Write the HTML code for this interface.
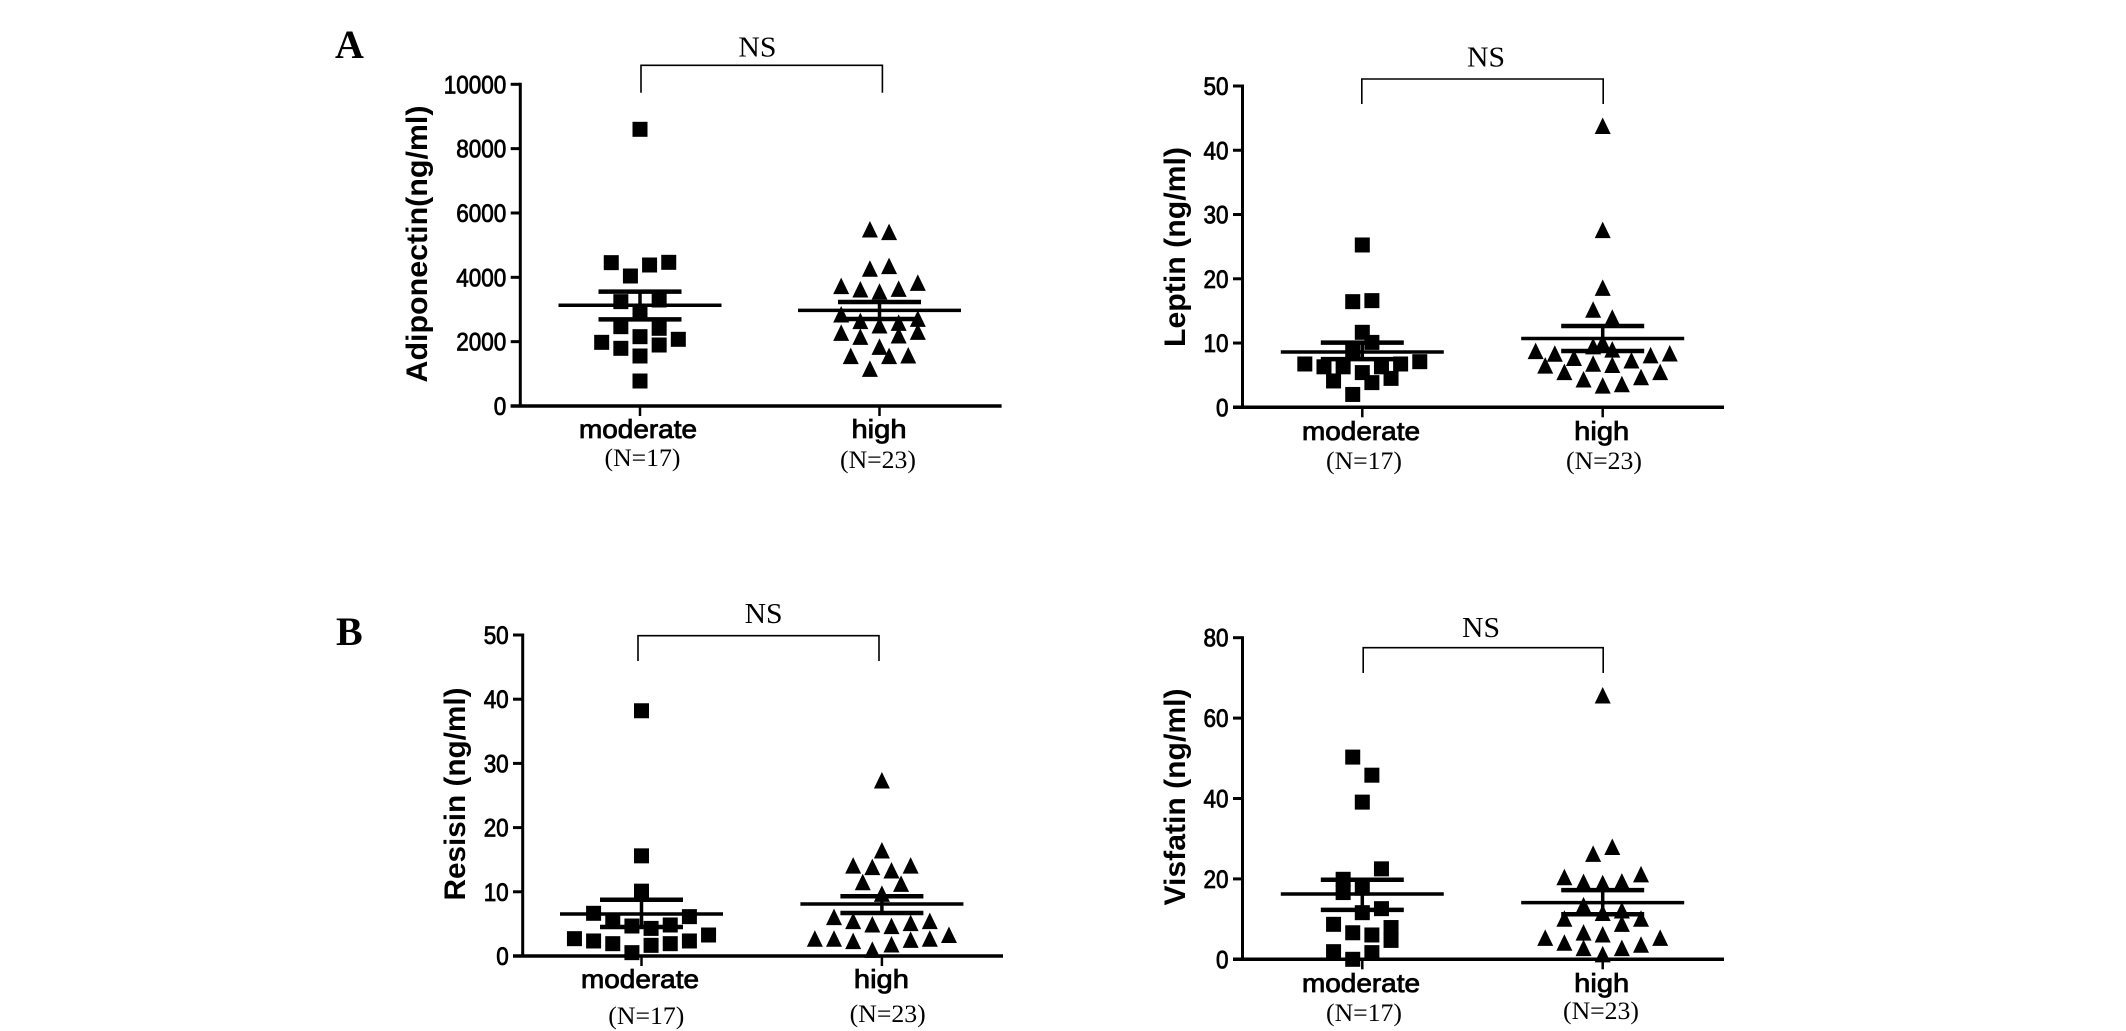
<!DOCTYPE html>
<html lang="en">
<head>
<meta charset="utf-8">
<title>Adipokine scatter plots</title>
<style>
html,body{margin:0;padding:0;background:#fff;}
svg{display:block;}
</style>
</head>
<body>
<svg id="figure" xmlns="http://www.w3.org/2000/svg" width="2126" height="1031" viewBox="0 0 2126 1031">
  <rect width="2126" height="1031" fill="#fff"/>
  <text x="335" y="58" font-family="'Liberation Serif',serif" font-weight="700" font-size="40" fill="#000">A</text>
  <text x="336" y="645" font-family="'Liberation Serif',serif" font-weight="700" font-size="40" fill="#000">B</text>
</svg>
<script>
// ---- chart data ----
const categories = ['moderate', 'high'];
const groupSizes = ['(N=17)', '(N=23)'];

const adiponectinTicks = [0, 2000, 4000, 6000, 8000, 10000];
const adiponectinModerate = [8601,4456,4383,4466,4041,3244,3295,2933,2466,2415,2155,1896,1979,2073,1793,1554,777];
const adiponectinModerateSlots = [0,-3,1,3,-1,-2,2,0,-2,2,0,2,-4,4,-2,0,0];
const adiponectinHigh = [5472,5389,4249,4332,3710,3606,3534,3627,3813,2829,2622,2487,2570,2694,2259,2135,2176,2290,1824,1534,1534,1554,1140];
const adiponectinHighSlots = [-1,1,-1,1,-4,-2,0,2,4,-4,-2,0,2,4,-4,-2,2,4,0,-3,1,3,-1];
const adiponectinMeans = [3130, 2974];
const adiponectinUpper = [3554, 3233];
const adiponectinLower = [2694, 2705];

const leptinTicks = [0, 10, 20, 30, 40, 50];
const leptinModerate = [25.26,16.44,16.6,11.67,10.1,8.9,6.74,7.1,6.3,6.3,6.3,6.74,4.1,5.4,3.84,4.5,2.0];
const leptinModerateSlots = [0,-1,1,0,1,-1,-6,6,-4,-2,2,4,-3,0,1,3,-1];
const leptinHigh = [43.7,27.5,18.5,15.1,13.85,9.96,9.4,8.9,8.66,8.25,7.6,8.0,8.3,7.2,6.4,6.7,6.5,5.4,5.4,4.25,4.6,3.5,3.3];
const leptinHighSlots = [0,0,0,-1,1,0,-1,1,-7,-5,-3,5,7,3,-6,-1,1,-4,6,-2,4,2,0];
const leptinMeans = [8.6, 10.7];
const leptinUpper = [10.06, 12.66];
const leptinLower = [7.5, 8.77];

const resisinTicks = [0, 10, 20, 30, 40, 50];
const resisinModerate = [38.2,15.6,10.1,6.65,5.45,6.13,4.67,4.3,4.83,2.7,2.34,1.92,1.66,1.92,2.34,3.27,0.52];
const resisinModerateSlots = [0,0,0,-5,-3,5,-1,1,3,-7,-5,-3,1,3,5,7,-1];
const resisinHigh = [27.26,16.36,14.0,13.76,13.24,14.0,11.4,11.16,9.6,5.97,5.35,4.83,4.57,5.04,5.35,2.6,2.6,2.23,0.88,1.71,2.44,2.6,3.2];
const resisinHighSlots = [0,0,-3,-1,1,3,-2,2,0,-5,-3,-1,1,3,5,-7,-5,-3,-1,1,3,5,7];
const resisinMeans = [6.54, 8.1];
const resisinUpper = [8.77, 9.3];
const resisinLower = [4.52, 6.7];

const visfatinTicks = [0, 20, 40, 60, 80];
const visfatinModerate = [50.3,45.8,39.1,22.5,19.9,16.6,17.7,12.6,11.6,8.7,6.6,6.05,7.9,4.7,1.9,1.66,0];
const visfatinModerateSlots = [-1,1,0,2,-2,-2,0,2,0,-3,-1,1,3,3,-3,1,-1];
const visfatinHigh = [65.5,27.8,26.1,20.3,21,19.07,18.8,19.2,13.3,12.0,11.4,9.95,9.95,8.7,6.5,6.05,5.2,5.2,4,3.5,2.65,2.65,1.1];
const visfatinHighSlots = [0,1,-1,-4,4,-2,0,2,-2,2,0,-4,4,2,-2,0,-6,6,-4,4,-2,2,0];
const visfatinMeans = [16.25, 14.1];
const visfatinUpper = [19.8, 17.2];
const visfatinLower = [12.3, 11.2];

// ---- drawing ----
const NS = 'http://www.w3.org/2000/svg';
const svg = document.getElementById('figure');
const SLOT = 9.58;

function node(parent, tag) {
  const el = document.createElementNS(NS, tag);
  parent.appendChild(el);
  return el;
}
function setAll(el, attrs) {
  for (const k in attrs) el.setAttribute(k, attrs[k]);
  return el;
}
function seg(parent, x1, y1, x2, y2, w) {
  const l = node(parent, 'line');
  setAll(l, {x1: x1, y1: y1, x2: x2, y2: y2, stroke: '#000', 'stroke-width': w});
  return l;
}
function label(parent, str, x, y, size, family, weight, width) {
  const t = node(parent, 'text');
  setAll(t, {x: x, y: y, 'font-size': size, 'font-family': family, 'font-weight': weight, fill: '#000'});
  if (width) {
    t.setAttribute('textLength', width);
    t.setAttribute('lengthAdjust', 'spacingAndGlyphs');
  }
  t.textContent = str;
  return t;
}
const SANS = "'Liberation Sans',Arial,sans-serif";
const SERIF = "'Liberation Serif',serif";

function drawPanel(p) {
  const g = node(svg, 'g');
  
  

  const yMax = p.ticks[p.ticks.length - 1];
  const yScale = v => p.y0 - (v / yMax) * (p.y0 - p.yTop);
  const xScale = (cat, slot) => p.cats[cat] + slot * SLOT;

  // y axis
  const yAxis = seg(g, p.axisX, p.yTop - 1.5, p.axisX, p.y0 + 1.5, 3);
  
  
  p.ticks.forEach(v => {
    const tk = seg(g, p.xStart, yScale(v), p.axisX, yScale(v), 3);
    
    
    const str = String(v);
    const tw = str.length * 12.5;
    const tl = label(g, str, p.axisX - 14 - tw, yScale(v) + 9, 25, SANS, 400, tw);
    tl.setAttribute('stroke', '#000');
    tl.setAttribute('stroke-width', '0.8');
    
    
  });

  // x axis
  const xAxis = seg(g, p.xStart, p.y0, p.xEnd, p.y0, 3.5);
  
  
  categories.forEach((c, i) => {
    const tk = seg(g, p.cats[i], p.y0, p.cats[i], p.y0 + 10, 2.5);
    
    
    const cw = i === 0 ? 118 : 55;
    const cl = label(g, c, p.catLabelX[i] - cw / 2, p.catLabelY, 26, SANS, 400, cw);
    cl.setAttribute('stroke', '#000');
    cl.setAttribute('stroke-width', '0.8');
    
    
    const nl = label(g, groupSizes[i], p.nLabelX[i] - 38, p.nLabelY[i], 25, SERIF, 400, 76);
    
    
  });

  // y title
  const title = label(g, p.title, 0, 0, 30, SANS, 700, p.titleLen);
  title.setAttribute('transform', 'translate(' + p.titleX + ',' + p.titleMid + ') rotate(-90) translate(' + (-p.titleLen / 2) + ',0)');
  
  

  // points
  p.moderate.forEach((v, i) => {
    const cx = xScale(0, p.moderateSlots[i]);
    const cy = yScale(v);
    const r = node(g, 'rect');
    setAll(r, {x: cx - 7.5, y: cy - 7.5, width: 15, height: 15, fill: '#000'});
    
    
  });
  p.high.forEach((v, i) => {
    const cx = xScale(1, p.highSlots[i]);
    const cy = yScale(v);
    const t = node(g, 'polygon');
    setAll(t, {points: cx + ',' + (cy - 9) + ' ' + (cx + 8) + ',' + (cy + 7.5) + ' ' + (cx - 8) + ',' + (cy + 7.5), fill: '#000'});
    
    
  });

  // mean and error bars
  categories.forEach((c, i) => {
    const cx = xScale(i, 0);
    const m = seg(g, cx - 81.5, yScale(p.means[i]), cx + 81.5, yScale(p.means[i]), 3.5);
    
    
    const s = seg(g, cx, yScale(p.upper[i]), cx, yScale(p.lower[i]), 3.5);
    
    
    const u = seg(g, cx - 41.5, yScale(p.upper[i]), cx + 41.5, yScale(p.upper[i]), 4.5);
    
    
    const d = seg(g, cx - 41.5, yScale(p.lower[i]), cx + 41.5, yScale(p.lower[i]), 4.5);
    
    
  });

  // significance bracket
  const b = node(g, 'polyline');
  setAll(b, {points: p.bracket[0] + ',' + p.bracket[3] + ' ' + p.bracket[0] + ',' + p.bracket[2] + ' ' + p.bracket[1] + ',' + p.bracket[2] + ' ' + p.bracket[1] + ',' + p.bracket[3], fill: 'none', stroke: '#000', 'stroke-width': 1.6});
  
  
  const ns = label(g, 'NS', p.nsX - 19, p.nsY, 29, SERIF, 400, 38);
  
  
}

drawPanel({
  key: 'adiponectin', title: 'Adiponectin(ng/ml)', titleX: 427, titleMid: 244, titleLen: 277,
  ticks: adiponectinTicks, moderate: adiponectinModerate, moderateSlots: adiponectinModerateSlots,
  high: adiponectinHigh, highSlots: adiponectinHighSlots,
  means: adiponectinMeans, upper: adiponectinUpper, lower: adiponectinLower,
  axisX: 520.3, xStart: 510.7, xEnd: 1001.6, y0: 406, yTop: 84.3, cats: [640, 879.5],
  catLabelX: [638, 879], catLabelY: 438, nLabelX: [642.5, 878], nLabelY: [466, 468],
  bracket: [641, 882.4, 65.3, 92.7], nsX: 757.4, nsY: 56.7
});
drawPanel({
  key: 'leptin', title: 'Leptin (ng/ml)', titleX: 1185, titleMid: 247, titleLen: 200,
  ticks: leptinTicks, moderate: leptinModerate, moderateSlots: leptinModerateSlots,
  high: leptinHigh, highSlots: leptinHighSlots,
  means: leptinMeans, upper: leptinUpper, lower: leptinLower,
  axisX: 1242.5, xStart: 1233, xEnd: 1724, y0: 407.3, yTop: 86, cats: [1362.3, 1602.7],
  catLabelX: [1361, 1601.7], catLabelY: 440, nLabelX: [1364, 1604], nLabelY: [469, 469],
  bracket: [1361.8, 1603.2, 79, 104], nsX: 1486, nsY: 66.7
});
drawPanel({
  key: 'resisin', title: 'Resisin (ng/ml)', titleX: 465, titleMid: 794, titleLen: 213,
  ticks: resisinTicks, moderate: resisinModerate, moderateSlots: resisinModerateSlots,
  high: resisinHigh, highSlots: resisinHighSlots,
  means: resisinMeans, upper: resisinUpper, lower: resisinLower,
  axisX: 522.7, xStart: 513, xEnd: 1003, y0: 956, yTop: 635, cats: [641.5, 881.9],
  catLabelX: [640, 881.4], catLabelY: 988, nLabelX: [646.3, 887.7], nLabelY: [1024, 1022],
  bracket: [638, 879, 635.7, 661], nsX: 763.6, nsY: 623
});
drawPanel({
  key: 'visfatin', title: 'Visfatin (ng/ml)', titleX: 1185, titleMid: 797, titleLen: 217,
  ticks: visfatinTicks, moderate: visfatinModerate, moderateSlots: visfatinModerateSlots,
  high: visfatinHigh, highSlots: visfatinHighSlots,
  means: visfatinMeans, upper: visfatinUpper, lower: visfatinLower,
  axisX: 1242.5, xStart: 1233, xEnd: 1724, y0: 959.3, yTop: 637.7, cats: [1362.3, 1602.7],
  catLabelX: [1361, 1601.7], catLabelY: 992, nLabelX: [1364, 1601], nLabelY: [1021, 1019],
  bracket: [1363.2, 1603.2, 647.7, 673], nsX: 1481, nsY: 637
});
</script>
</body>
</html>
